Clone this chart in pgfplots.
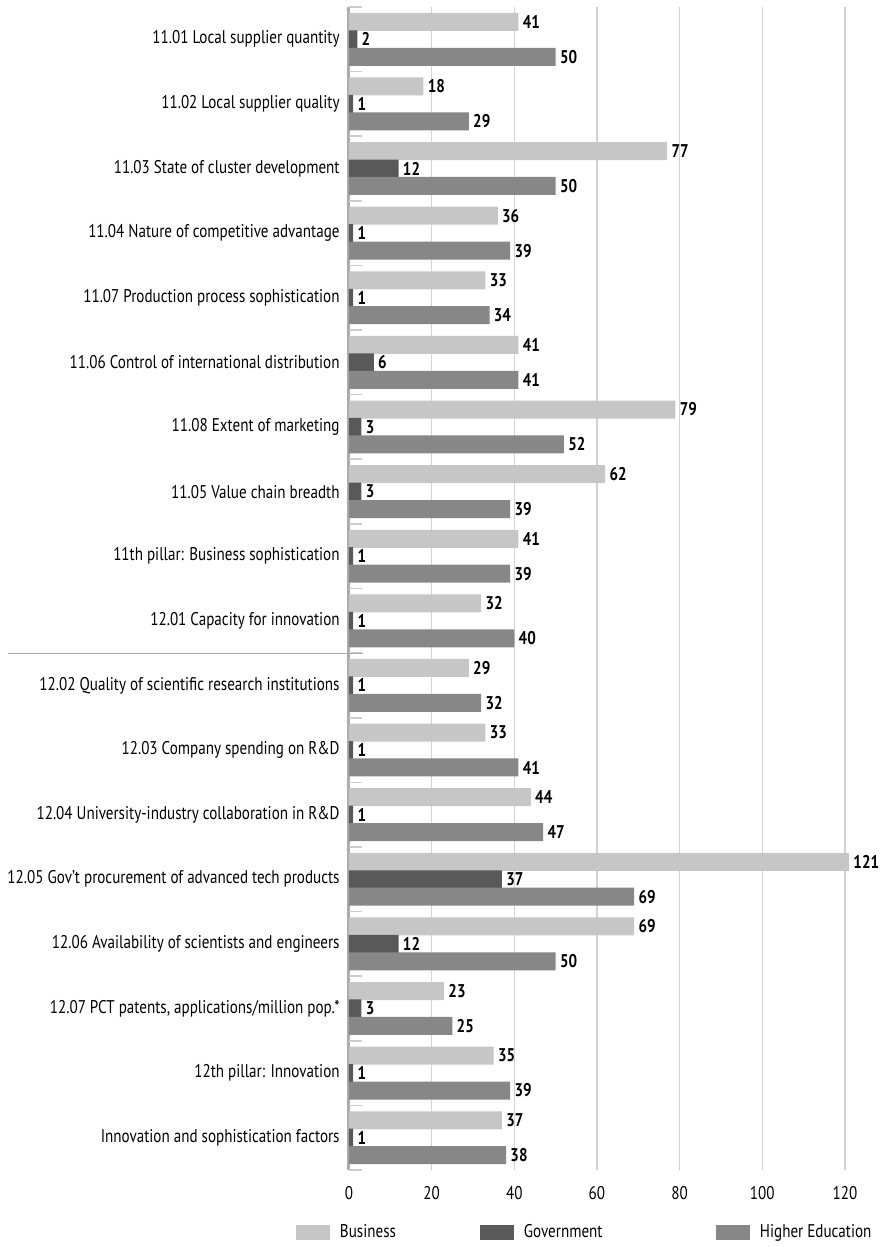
\documentclass[border=0pt]{standalone}
\usepackage{fontspec}
\setmainfont{PT Sans}[FakeStretch=0.82]
\usepackage{pgfplots}
\usepackage{pgfplotstable}
\pgfplotsset{compat=1.18}
\pgfplotsset{/pgf/number format/assume math mode=true}
\definecolor{cBus}{HTML}{C6C6C6}
\definecolor{cGov}{HTML}{595959}
\definecolor{cHE}{HTML}{878787}
\definecolor{axgray}{HTML}{ABABAB}
\definecolor{gridgray}{HTML}{D3D3D3}
\definecolor{tickgray}{HTML}{CCCCCC}
\definecolor{sepgray}{HTML}{A8A8A8}

\pgfplotstableread{
idx bus gov he
0 41 2 50
1 18 1 29
2 77 12 50
3 36 1 39
4 33 1 34
5 41 6 41
6 79 3 52
7 62 3 39
8 41 1 39
9 32 1 40
10 29 1 32
11 33 1 41
12 44 1 47
13 121 37 69
14 69 12 50
15 23 3 25
16 35 1 39
17 37 1 38
}\datatable

\begin{document}
\begin{tikzpicture}[font=\fontsize{9.2pt}{11pt}\selectfont]
\begin{axis}[
  at={(0,0)}, anchor=south west,
  scale only axis,
  width=264.5pt, height=581.5pt,
  xbar, bar width=9pt,
  xmin=0, xmax=128,
  ymin=-0.5, ymax=17.5,
  y dir=reverse,
  clip=false,
  axis lines*=left,
  axis line style={-},
  x axis line style={draw=none},
  y axis line style={draw=axgray, line width=1.5pt},
  xtick={0,20,...,120},
  xmajorgrids=true,
  major grid style={draw=gridgray, line width=0.75pt},
  major tick length=0pt,
  tick align=inside,
  tick pos=left,
  xticklabel style={anchor=north, inner sep=0pt, yshift=-8pt},
  ytick={0,...,17},
  yticklabels={
    11.01 Local supplier quantity,
    11.02 Local supplier quality,
    11.03 State of cluster development,
    11.04 Nature of competitive advantage,
    11.07 Production process sophistication,
    11.06 Control of international distribution,
    11.08 Extent of marketing,
    11.05 Value chain breadth,
    11th pillar: Business sophistication,
    12.01 Capacity for innovation,
    12.02 Quality of scientific research institutions,
    12.03 Company spending on R\&D,
    12.04 University-industry collaboration in R\&D,
    12.05 Gov’t procurement of advanced tech products,
    12.06 Availability of scientists and engineers,
    {12.07 PCT patents, applications/million pop.*},
    12th pillar: Innovation,
    Innovation and sophistication factors},
  yticklabel style={anchor=east, inner sep=0pt, xshift=-4.5pt},
  extra y ticks={-0.5,0.5,...,17.5},
  extra y tick labels={},
  extra y tick style={major tick length=6.5pt, tick style={draw=tickgray, line width=0.8pt}, ymajorgrids=false},
  nodes near coords,
  point meta=x,
  nodes near coords style={anchor=west, inner sep=0pt, xshift=2pt, font=\fontsize{9.2pt}{11pt}\selectfont\bfseries, text=black},
  legend columns=3,
  legend image code/.code={\fill[#1] (0pt,-3.75pt) rectangle (17pt,3.75pt);},
  legend style={draw=none, fill=none, inner sep=0pt, outer sep=0pt,
    at={(0,0)}, anchor=west, xshift=-26.5pt, yshift=-31pt,
    nodes={inner sep=0pt},
    /tikz/every odd column/.append style={column sep=5pt},
    /tikz/every even column/.append style={column sep=0pt}},
]
\addplot[fill=cBus, draw=none, bar shift=0pt] table[x=bus, y expr=\thisrow{idx}-0.27] \datatable;
\addplot[fill=cGov, draw=none, bar shift=0pt] table[x=gov, y expr=\thisrow{idx}] \datatable;
\addplot[fill=cHE, draw=none, bar shift=0pt] table[x=he, y expr=\thisrow{idx}+0.27] \datatable;
\addlegendentry{\makebox[70pt][l]{Business}}
\addlegendentry{\makebox[96pt][l]{Government}}
\addlegendentry{Higher Education}
\draw[sepgray, line width=0.6pt] ([xshift=-170.5pt]axis cs:0,9.5) -- ([xshift=7pt]axis cs:0,9.5);
\end{axis}
\pgfresetboundingbox
\path[use as bounding box] (-174.5pt,-38.5pt) rectangle (268pt,585pt);
\end{tikzpicture}
\end{document}
